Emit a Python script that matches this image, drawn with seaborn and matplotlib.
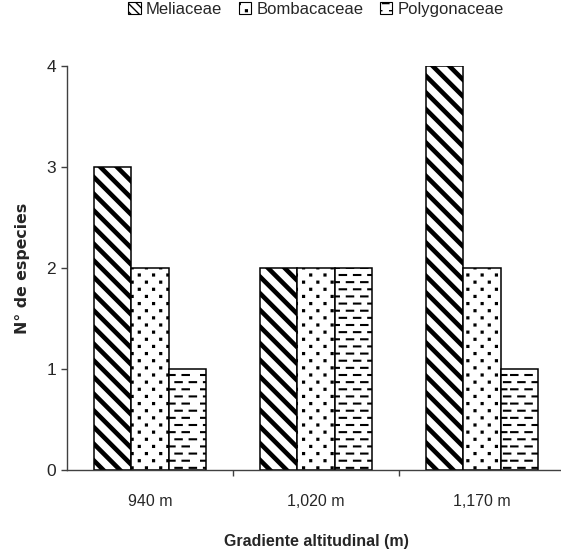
import numpy as np
import pandas as pd
import matplotlib
matplotlib.use("Agg")
import matplotlib.pyplot as plt
import matplotlib.hatch as mhatch
from matplotlib import font_manager
from matplotlib.path import Path
from matplotlib.patches import Patch
import seaborn as sns

# ---- data ----
categories = ["940 m", "1,020 m", "1,170 m"]
families = ["Meliaceae", "Bombacaceae", "Polygonaceae"]
meliaceae = [3, 2, 4]
bombacaceae = [2, 2, 2]
polygonaceae = [1, 2, 1]
yticks = [0, 1, 2, 3, 4]


# ---- custom hatch patterns (Excel-like dashes and sparse dots) ----
class DashedHorizontalHatch(mhatch.HatchPatternBase):
    rows_per_char = 14
    dashes_per_row = 7
    dash_frac = 0.45

    def __init__(self, hatch, density):
        c = hatch.count('-') + hatch.count('+')
        self.num_lines = c * self.rows_per_char
        self.num_vertices = self.num_lines * self.dashes_per_row * 2

    def set_vertices_and_codes(self, vertices, codes):
        n = self.num_lines
        k = self.dashes_per_row
        step = 1.0 / n
        period = 1.0 / k
        dash = period * self.dash_frac
        idx = 0
        for i in range(n):
            y = step * i + step / 2
            off = (period / 2) if (i % 2) else 0.0
            for j in range(k):
                x0 = j * period + off + (period - dash) / 2
                if x0 + dash > 1.0:
                    x0 -= 1.0
                x0 = max(x0, 0.0)
                x1 = min(x0 + dash, 1.0)
                vertices[idx] = (x0, y)
                codes[idx] = Path.MOVETO
                vertices[idx + 1] = (x1, y)
                codes[idx + 1] = Path.LINETO
                idx += 2


class SparseDotsHatch(mhatch.HatchPatternBase):
    rows_per_char = 14
    cols_per_char = 7
    half = 0.009

    def __init__(self, hatch, density):
        c = hatch.count('.')
        self.rows = c * self.rows_per_char
        self.cols = c * self.cols_per_char
        self.num_vertices = self.rows * self.cols * 5

    def set_vertices_and_codes(self, vertices, codes):
        h = self.half
        idx = 0
        for i in range(self.rows):
            y = (i + 0.5) / self.rows
            off = 0.5 if (i % 2) else 0.0
            for j in range(self.cols):
                x = ((j + 0.25 + off) / self.cols) % 1.0
                x = min(max(x, h), 1 - h)
                pts = [(x - h, y - h), (x + h, y - h), (x + h, y + h),
                       (x - h, y + h), (x - h, y - h)]
                for p in pts:
                    vertices[idx] = p
                    idx += 1
                codes[idx - 5] = Path.MOVETO
                codes[idx - 4] = Path.LINETO
                codes[idx - 3] = Path.LINETO
                codes[idx - 2] = Path.LINETO
                codes[idx - 1] = Path.CLOSEPOLY


for i, t in enumerate(mhatch._hatch_types):
    if t is mhatch.HorizontalHatch:
        mhatch._hatch_types[i] = DashedHorizontalHatch
    elif t is mhatch.SmallFilledCircles:
        mhatch._hatch_types[i] = SparseDotsHatch

sns.set_style("white")
installed = {f.name for f in font_manager.fontManager.ttflist}
fam = [f for f in ["Liberation Sans Narrow", "Liberation Sans", "DejaVu Sans"]
       if f in installed]
plt.rcParams["font.family"] = fam

df = pd.DataFrame({
    "alt": categories * 3,
    "fam": [families[0]] * 3 + [families[1]] * 3 + [families[2]] * 3,
    "n": meliaceae + bombacaceae + polygonaceae,
})

fig = plt.figure(figsize=(5.61, 5.54), dpi=100)
ax = fig.add_axes([67 / 561, 84 / 554, 498 / 561, 404 / 554])

sns.barplot(data=df, x="alt", y="n", hue="fam", order=categories,
            hue_order=families, palette=["white"] * 3, edgecolor="black",
            linewidth=1.1, width=0.67, saturation=1, legend=False, ax=ax)

hatches = ["\\\\", ".", "-"]
hlw = [3.3, 1.0, 1.5]
for cont, h, lw in zip(ax.containers, hatches, hlw):
    for bar in cont:
        bar.set_hatch(h)
        bar.set_edgecolor("black")
        try:
            bar.set_hatch_linewidth(lw)
        except AttributeError:
            pass

ax.set_ylim(0, 4)
ax.set_xlim(-0.5, 2.5)
ax.set_yticks(yticks)
ax.set_yticklabels([str(v) for v in yticks], fontsize=12.5)

# category labels centered, ticks at category boundaries
ax.set_xticks([0.5, 1.5])
ax.set_xticklabels([])
ax.set_xticks([0, 1, 2], minor=True)
ax.set_xticklabels(categories, minor=True, fontsize=11.5)
ax.tick_params(axis="x", which="major", direction="out", length=4, width=1,
               color="#404040", bottom=True)
ax.tick_params(axis="x", which="minor", length=0, pad=17)
ax.tick_params(axis="y", direction="out", length=4, width=1,
               color="#404040", left=True, pad=4)

for s in ["top", "right"]:
    ax.spines[s].set_visible(False)
for s in ["left", "bottom"]:
    ax.spines[s].set_color("#404040")
    ax.spines[s].set_linewidth(1)

ax.set_xlabel("Gradiente altitudinal (m)", fontsize=11.5, fontweight="bold",
              labelpad=18)
ax.set_ylabel("N° de especies", fontsize=11.3, fontweight="bold",
              family=["DejaVu Sans"])
ax.yaxis.set_label_coords((30.5 - 67) / 498, 0.5)

leg_hatch = ["\\\\\\\\", ".", "-"]
leg_lw = [1.6, 1.0, 1.4]
handles = []
for h, lw in zip(leg_hatch, leg_lw):
    p = Patch(facecolor="white", edgecolor="black", hatch=h, linewidth=0.8)
    try:
        p.set_hatch_linewidth(lw)
    except AttributeError:
        pass
    handles.append(p)
ax.legend(handles, families, loc="center", bbox_to_anchor=(0.5, 1.14),
          ncol=3, frameon=False, fontsize=12, handlelength=0.75,
          handleheight=0.75, handletextpad=0.3, columnspacing=1.0)

fig.savefig("out.png", dpi=100)
